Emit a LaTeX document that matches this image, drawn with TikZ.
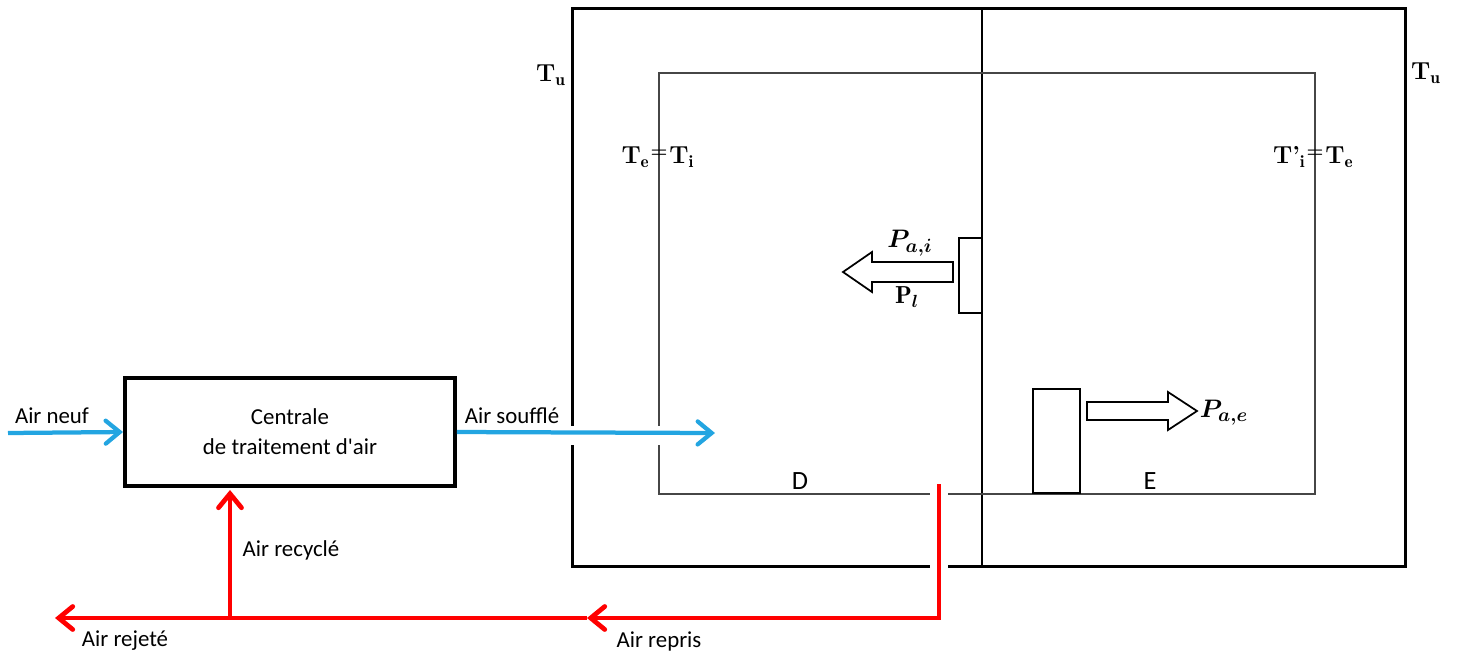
\documentclass[tikz,border=0pt]{standalone}
\usepackage{fontspec}
\usepackage{amsmath,bm}
\newfontfamily\calib{Carlito}
\usetikzlibrary{arrows.meta, positioning}
\definecolor{airblue}{RGB}{35,165,225}
\definecolor{wallgray}{RGB}{70,70,70}

\begin{document}
\begin{tikzpicture}[x=0.02cm, y=-0.02cm,
    airbleu/.style={draw=airblue, line width=0.085cm,
      -{Straight Barb[length=0.28cm, width=0.46cm, line cap=round]}},
    airrouge/.style={draw=red, line width=0.095cm,
      -{Straight Barb[length=0.28cm, width=0.46cm, line cap=round]}},
    lbl/.style={font=\calib\fontsize{13}{15}\selectfont, inner sep=0pt},
    tlbl/.style={font=\bfseries\fontsize{14}{16}\selectfont, inner sep=0pt},
    eqlbl/.style={font=\bfseries\fontsize{11}{13}\selectfont, inner sep=0pt},
    plbl/.style={font=\fontsize{15}{17}\selectfont, inner sep=0pt},
    hollow/.style={draw, line width=0.035cm, fill=white}]
  \useasboundingbox (0,0) rectangle (1458,657);

  % walls of the two rooms
  \draw[line width=0.06cm] (572,445) -- (572,566) -- (930,566)
    (948,566) -- (1405,566) -- (1405,8) -- (572,8) -- (572,426);
  \draw[line width=0.05cm] (982,8) -- (982,566);
  \draw[wallgray, line width=0.04cm] (659,445) -- (659,494) -- (930,494)
    (948,494) -- (1315,494) -- (1315,73) -- (659,73) -- (659,426);

  % air handling unit
  \node[draw, line width=0.08cm, minimum width=6.6cm, minimum height=2.16cm,
        align=center, font=\calib\fontsize{13}{17}\selectfont] (cta)
    at (290,432) {Centrale\\de traitement d'air};

  \coordinate (neuf) at (8,433);
  \coordinate (souffle) at (715,433);
  \coordinate (reprise) at (939,484);
  \coordinate (coin) at (939,618);
  \coordinate (repris) at (587,618);
  \coordinate (rejet) at (55,618);
  \coordinate (recycle) at (230,618);

  \draw[airbleu] (neuf) -- (cta.west);
  \draw[airbleu] (cta.east) -- (souffle);
  \draw[airrouge] (reprise) -- (coin) -- (repris);
  \draw[airrouge] (repris) -- (rejet);
  \draw[airrouge, shorten >=0.04cm] (recycle) -- (recycle |- cta.south);

  \node[lbl] (lneuf) at (52,416) {Air neuf};
  \node[lbl] (lsouffle) at (512,416) {Air soufflé};
  \node[lbl] (lrecycle) at (291,550) {Air recyclé};
  \node[lbl] (lrejet) at (125,641) {Air rejeté};
  \node[lbl] (lrepris) at (659,641) {Air repris};
  \node[lbl, font=\calib\fontsize{15}{17}\selectfont] (roomD) at (800,481) {D};
  \node[lbl, font=\calib\fontsize{15}{17}\selectfont] (roomE) at (1150,481) {E};

  % temperatures
  \node[tlbl] (tuL) at (551,75) {T$_{\mathbf{u}}$};
  \node[tlbl] (tuR) at (1426,73) {T$_{\mathbf{u}}$};
  \node[tlbl, anchor=east] (te1) at (650,157) {T$_{\mathbf{e}}$};
  \node[eqlbl] (eq1) at (659,154) {=};
  \node[tlbl, anchor=west] (ti1) at (669,157) {T$_{\mathbf{i}}$};
  \node[tlbl, anchor=east] (ti2) at (1306,157) {T’$_{\mathbf{i}}$};
  \node[eqlbl] (eq2) at (1315,154) {=};
  \node[tlbl, anchor=west] (te2) at (1325,157) {T$_{\mathbf{e}}$};

  % internal and external units
  \draw[line width=0.04cm] (959,238) rectangle (982,313);
  \draw[hollow] (953,262) -- (872,262) -- (872,252) -- (843,272)
    -- (872,292) -- (872,282) -- (953,282) -- cycle;
  \node[plbl] (pai) at (910,243) {$\bm{P_{a,i}}$};
  \node[plbl, font=\fontsize{14}{16}\selectfont] (pl) at (907,297)
    {$\mathbf{P}_{\bm{l}}$};

  \draw[line width=0.045cm] (1033,389) rectangle (1080,493);
  \draw[hollow] (1087,402) -- (1168,402) -- (1168,392) -- (1197,411)
    -- (1168,430) -- (1168,420) -- (1087,420) -- cycle;
  \node[plbl] (pae) at (1224,413) {$\bm{P_{a,e}}$};
\end{tikzpicture}
\end{document}
